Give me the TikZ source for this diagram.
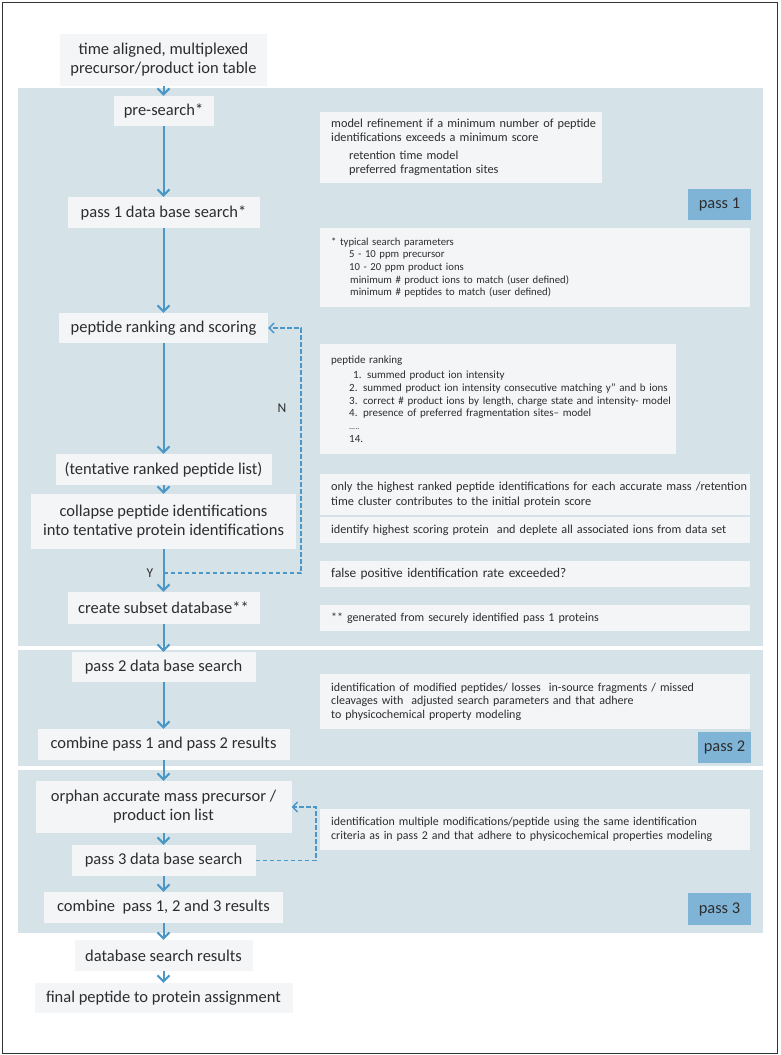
\documentclass[tikz,border=0pt]{standalone}
\usepackage{fontspec}
\setmainfont{Carlito}
\usetikzlibrary{arrows.meta}
\definecolor{panelc}{RGB}{213,227,233}
\definecolor{boxc}{RGB}{243,245,246}
\definecolor{labelc}{RGB}{128,180,215}
\definecolor{arrowc}{RGB}{74,151,200}
\definecolor{txtc}{RGB}{45,45,45}
\newcommand{\fsz}[2]{\fontsize{#1}{#2}\selectfont}
\begin{document}
\begin{tikzpicture}[x=1pt,y=-1pt,
  mainbox/.style={fill=boxc, text=txtc, inner sep=0pt, align=center, font=\fsz{16.5}{19}},
  rbox/.style={fill=boxc, text=txtc, inner xsep=11pt, inner ysep=0pt, align=left, anchor=west},
  passlabel/.style={fill=labelc, text=txtc, inner sep=0pt, font=\fsz{16.4}{18}},
  flow/.style={draw=arrowc, line width=2pt, -{Straight Barb[length=6pt,width=12pt,line width=2pt]}},
  loop/.style={draw=arrowc, line width=1.3pt, dash pattern=on 4.5pt off 2.5pt},
  loopend/.style={-{Straight Barb[length=5pt,width=10pt,line width=1.3pt]}},
  tag/.style={text=txtc, inner sep=0pt, font=\fsz{13.5}{15}}
]
\useasboundingbox (0,0) rectangle (781,1055);
\fill[white] (0,0) rectangle (781,1055);
\draw[line width=1pt, draw=black!80] (2,2) rectangle (777,1053);

% panels
\fill[panelc] (18,88) rectangle (763,646);
\fill[panelc] (18,650) rectangle (763,766);
\fill[panelc] (18,770) rectangle (763,933);

% main flow boxes
\node[mainbox, minimum width=207pt, minimum height=52pt] (top) at (163.5,60) {time aligned, multiplexed\\precursor/product ion table};
\node[mainbox, minimum width=100pt, minimum height=30pt] (pre) at (163.5,111) {pre-search*};
\node[mainbox, minimum width=192pt, minimum height=31pt] (p1) at (163.5,212.5) {pass 1 data base search*};
\node[mainbox, minimum width=209pt, minimum height=30pt] (rank) at (163.5,328) {peptide ranking and scoring};
\node[mainbox, minimum width=216pt, minimum height=31pt] (tent) at (163.5,469.5) {(tentative ranked peptide list)};
\node[mainbox, minimum width=265pt, minimum height=55pt] (coll) at (163.5,521.5) {collapse peptide identifications\\into tentative protein identifications};
\node[mainbox, minimum width=192pt, minimum height=32pt] (sub) at (163.5,608) {create subset database**};
\node[mainbox, minimum width=184pt, minimum height=30pt] (p2) at (163.5,667) {pass 2 data base search};
\node[mainbox, minimum width=252pt, minimum height=31pt] (comb2) at (163.5,744.5) {combine pass 1 and pass 2 results};
\node[mainbox, minimum width=256pt, minimum height=52pt] (orph) at (163.5,807) {orphan accurate mass precursor /\\product ion list};
\node[mainbox, minimum width=184pt, minimum height=31pt] (p3) at (163.5,860.5) {pass 3 data base search};
\node[mainbox, minimum width=239pt, minimum height=31pt] (comb3) at (163.5,907.5) {combine\ \ pass 1, 2 and 3 results};
\node[mainbox, minimum width=178pt, minimum height=31pt] (dbres) at (163.5,955.5) {database search results};
\node[mainbox, minimum width=258pt, minimum height=30pt] (final) at (163.5,998) {final peptide to protein assignment};

% right-hand notes
\node[rbox, minimum width=282pt, minimum height=71pt, text width=260pt, font=\fsz{12.3}{14}] (mref) at (320,147.5)
 {\mbox{model refinement if a minimum number of peptide}\\\mbox{identifications exceeds a minimum score}\\[4pt]
  \mbox{\hspace*{18pt}retention time model}\\\mbox{\hspace*{18pt}preferred fragmentation sites}};
\node[rbox, minimum width=430pt, minimum height=79pt, text width=408pt, font=\fsz{10.7}{12.7}] (params) at (320,267.5)
 {\mbox{* typical search parameters}\\
  \mbox{\hspace*{18pt}5 - 10 ppm precursor}\\
  \mbox{\hspace*{18pt}10 - 20 ppm product ions}\\
  \mbox{\hspace*{19pt}minimum \# product ions to match (user defined)}\\
  \mbox{\hspace*{19pt}minimum \# peptides to match (user defined)}};
\node[rbox, minimum width=356pt, minimum height=110pt, text width=334pt, font=\fsz{11}{12.7}] (rankbox) at (320,399)
 {\mbox{peptide ranking}\\[3pt]
  \mbox{\hspace*{22pt}1. summed product ion intensity}\\
  \mbox{\hspace*{18pt}2. summed product ion intensity consecutive matching y" and b ions}\\
  \mbox{\hspace*{18pt}3. correct \# product ions by length, charge state and intensity- model}\\
  \mbox{\hspace*{18pt}4. presence of preferred fragmentation sites-- model}\\
  \mbox{\hspace*{18pt}{\fsz{8}{9}.....}}\\
  \mbox{\hspace*{18pt}14.}\\[2pt]};
\node[rbox, minimum width=430pt, minimum height=41pt, text width=408pt, font=\fsz{12.3}{15}] (only) at (320,494.5)
 {\mbox{only the highest ranked peptide identifications for each accurate mass /retention}\\\mbox{time cluster contributes to the initial protein score}};
\node[rbox, minimum width=430pt, minimum height=26pt, text width=408pt, font=\fsz{12.2}{15}] (ident) at (320,530)
 {\mbox{identify highest scoring protein\ \ and deplete all associated ions from data set}};
\node[rbox, minimum width=430pt, minimum height=26pt, text width=408pt, font=\fsz{13.3}{15}] (fpos) at (320,574)
 {\mbox{false positive identification rate exceeded?}};
\node[rbox, minimum width=430pt, minimum height=26pt, text width=408pt, font=\fsz{12}{15}] (gen) at (320,618)
 {\mbox{** generated from securely identified pass 1 proteins}};
\node[rbox, minimum width=430pt, minimum height=55pt, text width=408pt, font=\fsz{12}{13.5}] (modif) at (320,701.5)
 {\mbox{identification of modified peptides/ losses\ \ in-source fragments / missed}\\\mbox{cleavages with\ \ adjusted search parameters and that adhere}\\\mbox{to physicochemical property modeling}};
\node[rbox, minimum width=430pt, minimum height=41pt, text width=408pt, font=\fsz{11.9}{14}] (multi) at (320,829.5)
 {\mbox{identification multiple modifications/peptide using the same identification}\\\mbox{criteria as in pass 2 and that adhere to physicochemical properties modeling}};

% pass labels
\node[passlabel, minimum width=63pt, minimum height=31pt] (lab1) at (719.5,204.5) {pass 1};
\node[passlabel, minimum width=53pt, minimum height=31pt] (lab2) at (724.5,747.5) {pass 2};
\node[passlabel, minimum width=63pt, minimum height=32pt] (lab3) at (719.5,909) {pass 3};

% loops
\coordinate (yjoin) at (163.5,573);
\coordinate (loopR) at (301,573);
\coordinate (loop3) at (316,860.5);
\draw[loop, loopend] (yjoin) -- (loopR) |- (rank.east);
\draw[loop, loopend] (p3.east) -- (loop3) |- (orph.east);
\node[tag] (nlab) at (282,408) {N};
\node[tag] (ylab) at (150,573) {Y};

% main flow arrows
\draw[flow] (top) -- (pre);
\draw[flow] (pre) -- (p1);
\draw[flow] (p1) -- (rank);
\draw[flow] (rank) -- (tent);
\draw[flow] (tent) -- (coll);
\draw[flow] (coll) -- (sub);
\draw[flow] (sub) -- (p2);
\draw[flow] (p2) -- (comb2);
\draw[flow] (comb2) -- (orph);
\draw[flow] (orph) -- (p3);
\draw[flow] (p3) -- (comb3);
\draw[flow] (comb3) -- (dbres);
\draw[flow] (dbres) -- (final);
\end{tikzpicture}
\end{document}
